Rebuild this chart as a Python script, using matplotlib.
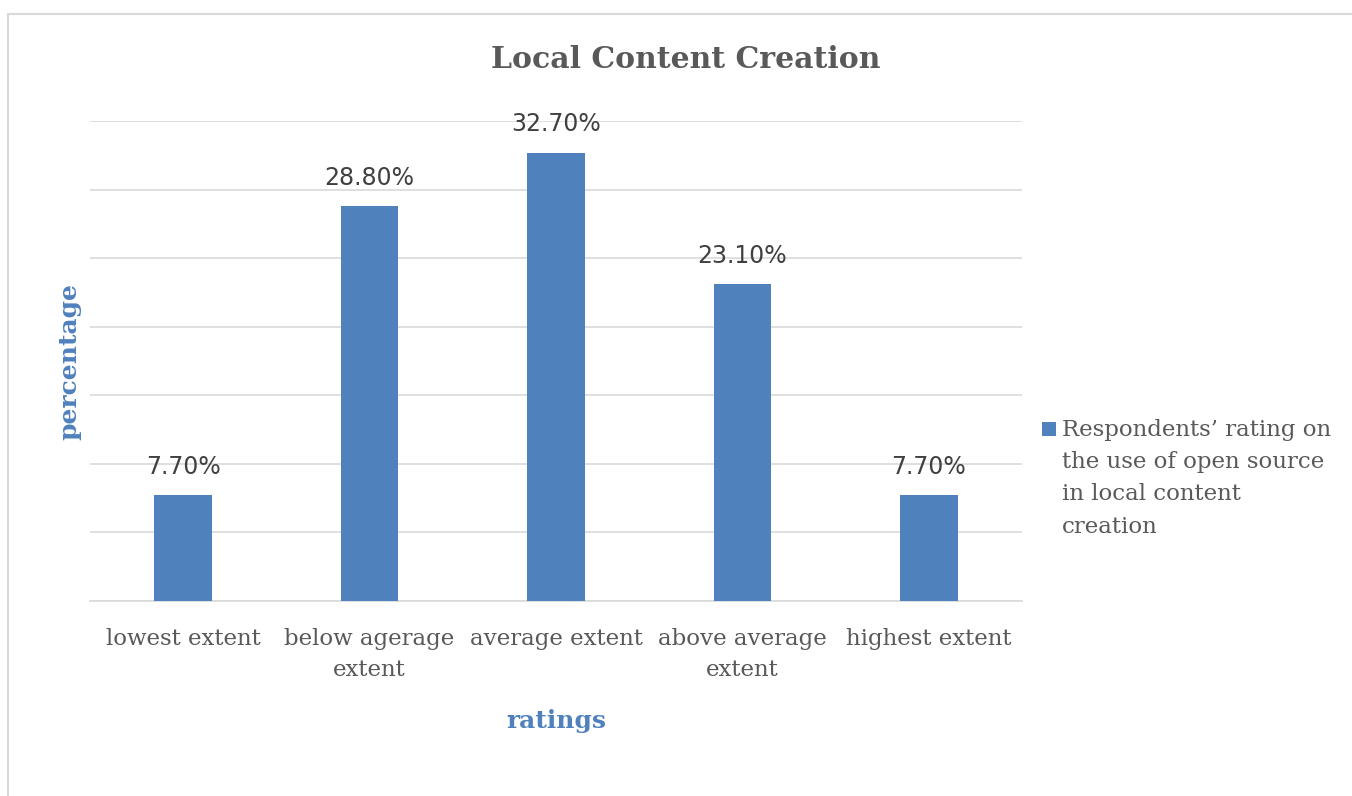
import matplotlib.pyplot as plt
from matplotlib.patches import Rectangle

categories = ["lowest extent", "below agerage\nextent", "average extent",
              "above average\nextent", "highest extent"]
values = [7.7, 28.8, 32.7, 23.1, 7.7]
series_name = "Respondents\u2019 rating on\nthe use of open source\nin local content\ncreation"

BLUE = "#4F81BD"
GRID = "#D9D9D9"
TEXT = "#595959"
SERIF = ["DejaVu Serif"]

fig = plt.figure(figsize=(13.52, 7.96), dpi=100)
ax = fig.add_axes([90 / 1352, 1 - 601 / 796, 932 / 1352, 480 / 796])

x = list(range(len(categories)))
bars = ax.bar(x, values, width=0.31, color=BLUE, zorder=3, label=series_name)

for b, v in zip(bars, values):
    ax.annotate(f"{v:.2f}%", (b.get_x() + b.get_width() / 2, v),
                xytext=(0, 12), textcoords="offset points",
                ha="center", va="bottom", fontsize=17, color="#404040",
                family=["Liberation Sans Narrow", "DejaVu Sans Condensed", "DejaVu Sans"])

ax.set_xlim(-0.5, len(categories) - 0.5)
ax.set_ylim(0, 35.02)
ax.set_yticks(range(0, 36, 5))
ax.yaxis.grid(True, color=GRID, linewidth=1.2, zorder=0)
ax.tick_params(axis="y", left=False, labelleft=False)
ax.tick_params(axis="x", bottom=False, pad=16, labelsize=16.5, labelcolor=TEXT)
ax.set_xticks(x)
ax.set_xticklabels(categories, family=SERIF, linespacing=1.55)
for s in ["top", "right", "left"]:
    ax.spines[s].set_visible(False)
ax.spines["bottom"].set_color(GRID)
ax.spines["bottom"].set_linewidth(1.2)

ax.set_xlabel("ratings", fontsize=18, fontweight="bold", color=BLUE,
              family=SERIF, labelpad=20)
ax.set_ylabel("percentage", fontsize=18, fontweight="bold", color=BLUE,
              family=SERIF, labelpad=6)

fig.text(686 / 1352, 1 - 60 / 796, "Local Content Creation", ha="center", va="center",
         fontsize=21.5, fontweight="bold", color=TEXT, family=SERIF)

# legend drawn by hand so the marker sits on the first line
fig.patches.append(Rectangle((1042 / 1352, 1 - 436 / 796), 14 / 1352, 14 / 796,
                             transform=fig.transFigure, facecolor=BLUE,
                             edgecolor="none"))
fig.text(1062 / 1352, 1 - 419 / 796, series_name, ha="left", va="top",
         fontsize=16.5, color=TEXT, family=SERIF, linespacing=1.6)

# outer chart border
fig.patches.append(Rectangle((8 / 1352, -0.05), 1.1, 1 - 14 / 796 + 0.05,
                             transform=fig.transFigure, fill=False,
                             edgecolor=GRID, linewidth=1.5))

fig.savefig("out.png", dpi=100)
